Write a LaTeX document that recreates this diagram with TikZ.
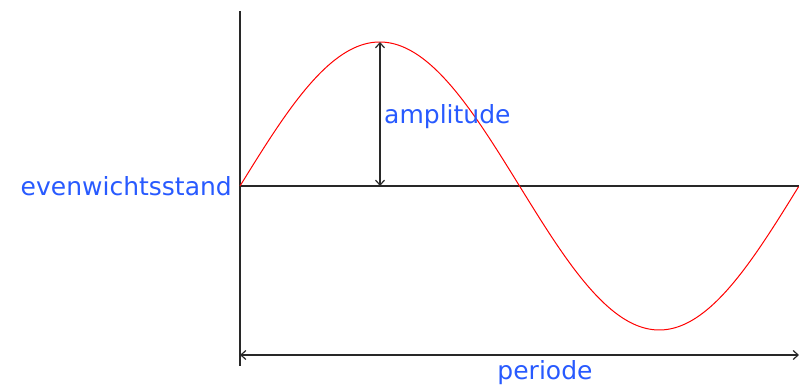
\documentclass[tikz,border=0pt]{standalone}
\usepackage{fontspec}
\setmainfont{DejaVu Sans}
\usetikzlibrary{arrows.meta}
\definecolor{lblue}{RGB}{40,90,255}
\definecolor{axgray}{RGB}{40,40,40}
\tikzset{
  axis/.style={draw=axgray, line width=1.6pt},
  wave/.style={draw=red, line width=1pt},
  dim/.style={draw=axgray, line width=1.2pt, {Straight Barb[length=5pt,width=9pt]}-{Straight Barb[length=5pt,width=9pt]}},
  lbl/.style={text=lblue, font=\fontsize{25}{28}\selectfont, inner sep=0pt}
}
\begin{document}
\begin{tikzpicture}[x=1pt,y=1pt]
\useasboundingbox (0,0) rectangle (799,387);
\coordinate (O) at (240,201);
\coordinate (T) at (240,376);
\coordinate (B) at (240,21);
\coordinate (R) at (799,201);
\coordinate (P) at (380,345);
\coordinate (F) at (380,201);
\coordinate (PL) at (240,32);
\coordinate (PR) at (799,32);
\draw[axis] (T) -- (B);
\draw[axis] (O) -- (R);
\draw[wave] plot[domain=0:1, samples=240] ({240+559*\x}, {201+144*sin(360*\x)});
\draw[dim] (P) -- (F);
\draw[dim] (PL) -- (PR);
\node[lbl, anchor=west] (amp) at (384,270) {amplitude};
\node[lbl, anchor=east] (eq) at (232,201) {evenwichtsstand};
\node[lbl, anchor=center] (per) at (545,14) {periode};
\end{tikzpicture}
\end{document}
